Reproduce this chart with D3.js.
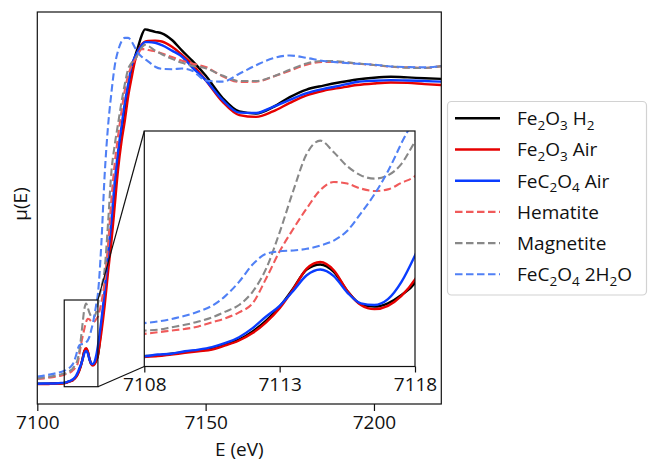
<!DOCTYPE html>
<html><head><meta charset="utf-8">
<script src="https://cdn.jsdelivr.net/npm/d3@7"></script>
<style>
body{margin:0;background:#fff;}
svg{display:block;}
text{font-family:"Open Sans",sans-serif;fill:#111;}
</style>
</head><body>
<svg id="chart" width="648" height="462"></svg>
<script>
// ---------------- DATA ----------------
const energy = [7100,7102,7104,7106,7107,
  7108,7108.5,7109,7109.5,7110,7110.5,7111,7111.5,7112,7112.5,7113,7113.5,7114,7114.5,7115,7115.5,7116,7116.5,7117,7117.5,7118,
  7119,7120,7121,7122,7123,7124,7125,7126,7127,7128,7129,7130,7131,
  7132,7133,7135,7137,7140,7143,7146,7150,
  7155,7160,7165,7170,7175,7180,7185,7190,7195,7200,7205,7210,7215,7220];

const fe2o3H2 = [-0.006,-0.006,-0.005,-0.004,-0.004,
  -0.003,-0.002,0.000,0.002,0.004,0.006,0.011,0.017,0.027,0.040,0.057,0.079,0.102,0.108,0.099,0.076,0.060,0.057,0.061,0.071,0.086,
  0.18,0.28,0.39,0.50,0.62,0.73,0.82,0.90,0.97,1.03,1.07,1.105,1.14,
  1.16,1.158,1.152,1.147,1.125,1.09,1.057,1.008,
  0.935,0.89,0.883,0.904,0.937,0.962,0.975,0.986,0.995,1.001,1.004,1.002,0.999,0.997];

const fe2o3Air = [-0.007,-0.007,-0.006,-0.005,-0.005,
  -0.004,-0.003,-0.001,0.001,0.003,0.005,0.010,0.016,0.025,0.038,0.055,0.078,0.103,0.111,0.101,0.076,0.059,0.054,0.058,0.070,0.090,
  0.16,0.25,0.36,0.46,0.58,0.70,0.79,0.86,0.94,1.00,1.055,1.09,1.11,
  1.12,1.122,1.123,1.12,1.103,1.076,1.045,0.993,
  0.922,0.878,0.872,0.89,0.918,0.943,0.958,0.968,0.977,0.982,0.985,0.984,0.98,0.977];

const feC2O4Air = [-0.006,-0.005,-0.005,-0.004,-0.003,
  -0.003,-0.001,0.000,0.003,0.005,0.008,0.013,0.020,0.031,0.045,0.058,0.076,0.095,0.102,0.094,0.074,0.061,0.059,0.066,0.087,0.119,
  0.20,0.30,0.42,0.53,0.66,0.76,0.84,0.92,0.98,1.04,1.07,1.09,1.108,
  1.118,1.118,1.116,1.108,1.09,1.07,1.035,0.993,
  0.928,0.886,0.885,0.905,0.928,0.95,0.964,0.975,0.987,0.991,0.993,0.992,0.99,0.988];

const hematite = [0.010,0.012,0.015,0.019,0.021,
  0.024,0.026,0.028,0.030,0.033,0.038,0.043,0.050,0.061,0.091,0.124,0.151,0.176,0.198,0.208,0.206,0.200,0.197,0.199,0.207,0.215,
  0.26,0.33,0.45,0.60,0.72,0.81,0.89,0.96,1.01,1.04,1.06,1.08,1.095,
  1.095,1.092,1.088,1.081,1.069,1.057,1.048,1.036,
  1.006,0.987,0.988,1.004,1.024,1.044,1.053,1.052,1.047,1.043,1.037,1.035,1.033,1.039];

const magnetite = [0.012,0.015,0.018,0.022,0.025,
  0.028,0.029,0.032,0.035,0.039,0.044,0.051,0.059,0.075,0.103,0.147,0.197,0.242,0.258,0.244,0.227,0.216,0.212,0.216,0.230,0.257,
  0.31,0.37,0.52,0.69,0.78,0.85,0.92,0.98,1.03,1.05,1.06,1.08,1.10,
  1.109,1.105,1.09,1.078,1.063,1.05,1.04,1.032,
  1.008,0.99,0.99,1.005,1.027,1.048,1.056,1.054,1.048,1.043,1.038,1.034,1.033,1.039];

const feC2O4Hydrate = [0.018,0.021,0.025,0.030,0.033,
  0.037,0.039,0.042,0.046,0.051,0.058,0.070,0.087,0.108,0.121,0.124,0.125,0.127,0.131,0.137,0.149,0.170,0.193,0.221,0.255,0.290,
  0.45,0.68,0.84,0.95,1.04,1.09,1.12,1.132,1.132,1.12,1.10,1.082,1.07,
  1.062,1.054,1.037,1.03,1.029,1.031,1.024,0.992,
  0.988,1.014,1.042,1.065,1.074,1.066,1.056,1.051,1.047,1.044,1.038,1.036,1.035,1.039];

const seriesLabels = ["Fe_2O_3 H_2","Fe_2O_3 Air","FeC_2O_4 Air","Hematite","Magnetite","FeC_2O_4 2H_2O"];
const seriesValues = [fe2o3H2, fe2o3Air, feC2O4Air, hematite, magnetite, feC2O4Hydrate];
const mainTicks = [7100,7150,7200];
const insetTicks = [7108,7113,7118];
const mainXLim = [7100,7220], mainYLim = [-0.0724,1.2171];
const insetXLim = [7108,7118], insetYLim = [-0.0155,0.2697];

// ---------------- STYLE ----------------
const styles = [
  {color:"#000000", dash:null, w:2.4},
  {color:"#e60000", dash:null, w:2.4},
  {color:"#0a3cff", dash:null, w:2.4},
  {color:"#f05a5a", dash:"7.5,3.5", w:2.1},
  {color:"#888888", dash:"7.5,3.5", w:2.1},
  {color:"#5080f5", dash:"7.5,3.5", w:2.1}
];

const svg = d3.select("#chart");
const M = {l:37.3, r:441.3, t:12, b:404};
const I = {l:144.3, r:415, t:131, b:366.5};

const x = d3.scaleLinear().domain(mainXLim).range([M.l, M.r]);
const y = d3.scaleLinear().domain(mainYLim).range([M.b, M.t]);
const xi = d3.scaleLinear().domain(insetXLim).range([I.l, I.r]);
const yi = d3.scaleLinear().domain(insetYLim).range([I.b, I.t]);

const defs = svg.append("defs");
defs.append("clipPath").attr("id","clipMain").append("rect")
  .attr("x",M.l).attr("y",M.t).attr("width",M.r-M.l).attr("height",M.b-M.t);
defs.append("clipPath").attr("id","clipInset").append("rect")
  .attr("x",I.l).attr("y",I.t).attr("width",I.r-I.l).attr("height",I.b-I.t);

const series = seriesValues.map((vals,k)=>({label:seriesLabels[k], pts:energy.map((e,i)=>[e,vals[i]]), st:styles[k]}));

// main lines
const gMain = svg.append("g").attr("clip-path","url(#clipMain)");
const lineMain = d3.line().x(d=>x(d[0])).y(d=>y(d[1])).curve(d3.curveMonotoneX);
series.forEach(s=>{
  gMain.append("path").datum(s.pts).attr("d",lineMain)
    .attr("fill","none").attr("stroke",s.st.color).attr("stroke-width",s.st.w)
    .attr("stroke-dasharray",s.st.dash).attr("stroke-linejoin","round");
});

// main frame + axis
svg.append("rect").attr("x",M.l).attr("y",M.t).attr("width",M.r-M.l).attr("height",M.b-M.t)
  .attr("fill","none").attr("stroke","#111").attr("stroke-width",1.2);
const xAxis = d3.axisBottom(x).tickValues(mainTicks).tickFormat(d3.format("d")).tickSize(7).tickPadding(5);
const ax = svg.append("g").attr("transform",`translate(0,${M.b})`).call(xAxis);
ax.select(".domain").remove();
ax.selectAll(".tick line").attr("stroke","#111").attr("stroke-width",1.2);
ax.selectAll(".tick text").attr("font-size",19).attr("font-family","Open Sans").attr("fill","#111");

// zoom box and connectors
const bx0 = x(insetXLim[0]), bx1 = x(insetXLim[1]), by0 = y(insetYLim[1]), by1 = y(insetYLim[0]);
svg.append("rect").attr("x",bx0).attr("y",by0).attr("width",bx1-bx0).attr("height",by1-by0)
  .attr("fill","none").attr("stroke","#111").attr("stroke-width",1.2);
svg.append("line").attr("x1",bx1).attr("y1",by0).attr("x2",I.l).attr("y2",I.t).attr("stroke","#111").attr("stroke-width",1.2);
svg.append("line").attr("x1",bx1).attr("y1",by1).attr("x2",I.l).attr("y2",I.b).attr("stroke","#111").attr("stroke-width",1.2);

// inset
svg.append("rect").attr("x",I.l).attr("y",I.t).attr("width",I.r-I.l).attr("height",I.b-I.t).attr("fill","#fff");
const gIn = svg.append("g").attr("clip-path","url(#clipInset)");
const lineIn = d3.line().x(d=>xi(d[0])).y(d=>yi(d[1])).curve(d3.curveMonotoneX);
series.forEach(s=>{
  gIn.append("path").datum(s.pts.filter(p=>p[0]>=7107 && p[0]<=7120)).attr("d",lineIn)
    .attr("fill","none").attr("stroke",s.st.color).attr("stroke-width",s.st.w)
    .attr("stroke-dasharray",s.st.dash).attr("stroke-linejoin","round");
});
svg.append("rect").attr("x",I.l).attr("y",I.t).attr("width",I.r-I.l).attr("height",I.b-I.t)
  .attr("fill","none").attr("stroke","#111").attr("stroke-width",1.2);
const xiAxis = d3.axisBottom(xi).tickValues(insetTicks).tickFormat(d3.format("d")).tickSize(6).tickPadding(5);
const axi = svg.append("g").attr("transform",`translate(0,${I.b})`).call(xiAxis);
axi.select(".domain").remove();
axi.selectAll(".tick line").attr("stroke","#111").attr("stroke-width",1.2);
axi.selectAll(".tick text").attr("font-size",19).attr("font-family","Open Sans").attr("fill","#111");

// axis labels
svg.append("text").attr("x",(M.l+M.r)/2).attr("y",456).attr("text-anchor","middle")
  .attr("font-size",19).text("E (eV)");
svg.append("text").attr("transform","translate(27,204) rotate(-90)").attr("text-anchor","middle")
  .attr("font-size",19).text("μ(E)");

// legend
const L = {x:447.5, y:101.5, w:199, h:193.5};
svg.append("rect").attr("x",L.x).attr("y",L.y).attr("width",L.w).attr("height",L.h).attr("rx",4)
  .attr("fill","#fff").attr("stroke","#d2d2d2").attr("stroke-width",1.2);
function addRich(sel, str){
  // "_d" marks a subscript digit
  const parts = str.split(/(_\d)/).filter(p=>p.length);
  let sub=false;
  parts.forEach(p=>{
    if(p[0]==="_"){
      sel.append("tspan").attr("font-size",13.5).attr("dy", 4.5).text(p.slice(1));
      sub=true;
    } else {
      const t = sel.append("tspan").text(p);
      if(sub){ t.attr("dy",-4.5); sub=false; }
    }
  });
}
series.forEach((s,k)=>{
  const cy = 118.3 + k*31.2;
  svg.append("line").attr("x1",455).attr("x2",500).attr("y1",cy).attr("y2",cy)
    .attr("stroke",s.st.color).attr("stroke-width",s.st.w).attr("stroke-dasharray",s.st.dash);
  const t = svg.append("text").attr("x",517).attr("y",cy+6.8).attr("font-size",19);
  addRich(t, s.label);
});
</script>
</body></html>
